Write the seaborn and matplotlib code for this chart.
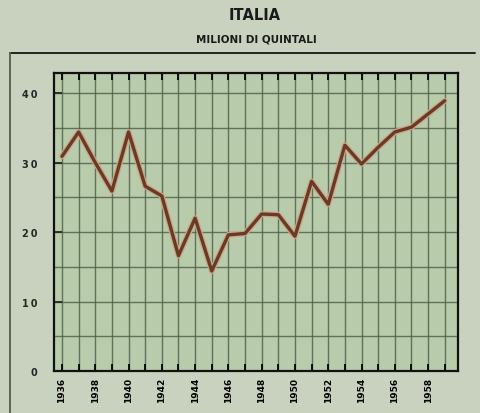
import numpy as np
import pandas as pd
import matplotlib
matplotlib.use("Agg")
import matplotlib.pyplot as plt
import matplotlib.patheffects as pe
from matplotlib.lines import Line2D
from matplotlib.ticker import MultipleLocator
import seaborn as sns

# Produzione, Italia (milioni di quintali)
years = list(range(1936, 1960))
values = [30.9, 34.4, 30.0, 25.9, 34.4, 26.6, 25.2, 16.6, 22.0, 14.4, 19.6, 19.8,
          22.6, 22.5, 19.4, 27.3, 24.0, 32.5, 29.8, 32.2, 34.4, 35.1, 37.0, 38.9]
tick_years = list(range(1936, 1960, 2))
y_ticks = [0, 10, 20, 30, 40]

df = pd.DataFrame({"Anno": years, "Quintali": values})

fig_bg = "#c9d2bf"
ax_bg = "#b8cbaa"
grid_col = "#4c5c48"

sns.set_style("ticks", {"axes.facecolor": ax_bg, "figure.facecolor": fig_bg})
plt.rcParams["font.family"] = ["DejaVu Sans"]

fig = plt.figure(figsize=(4.8, 4.14), dpi=100)
ax = fig.add_axes([0.1125, 0.1014, 0.8417, 0.7199])

sns.lineplot(data=df, x="Anno", y="Quintali", ax=ax, color="#6b3a22", linewidth=2.4,
             path_effects=[pe.Stroke(linewidth=4.2, foreground="#c9a58e"), pe.Normal()], zorder=5)

ax.set_xlim(1935.52, 1959.8)
ax.set_ylim(0, 42.9)
ax.set_xticks(tick_years)
ax.set_xticklabels([str(y) for y in tick_years], rotation=90, fontsize=6.5, fontweight="bold")
ax.xaxis.set_minor_locator(MultipleLocator(1))
ax.set_yticks(y_ticks)
ax.set_yticklabels(["\u2009".join(str(v)) for v in y_ticks], fontsize=7, fontweight="bold")
ax.yaxis.set_minor_locator(MultipleLocator(5))

ax.grid(which="both", color=grid_col, linewidth=1.0, alpha=0.8)
ax.set_axisbelow(True)
ax.tick_params(axis="x", which="both", direction="in", length=5, width=1.3, top=True, colors="black")
ax.tick_params(axis="x", which="major", pad=4)
ax.tick_params(axis="y", which="major", direction="in", length=6, width=1.3, pad=12)
ax.tick_params(axis="y", which="minor", length=0)
for s in ax.spines.values():
    s.set_visible(True)
    s.set_linewidth(1.6)
    s.set_color("#111111")
ax.set_xlabel("")
ax.set_ylabel("")

# outer frame of the page
fig.add_artist(Line2D([10 / 480, 475 / 480], [1 - 54 / 414, 1 - 54 / 414], color="#222222", linewidth=1.4))
fig.add_artist(Line2D([10 / 480, 10 / 480], [1 - 54 / 414, 0], color="#556650", linewidth=1.4))

fig.text(0.53, 1 - 16 / 414, "ITALIA", ha="center", va="center", fontsize=10.5, fontweight="bold", color="#1a1a1a")
fig.text(0.535, 1 - 40 / 414, "MILIONI DI QUINTALI", ha="center", va="center", fontsize=7.5,
         fontweight="bold", color="#1a1a1a")

fig.savefig("out.png", dpi=100, facecolor=fig_bg)
